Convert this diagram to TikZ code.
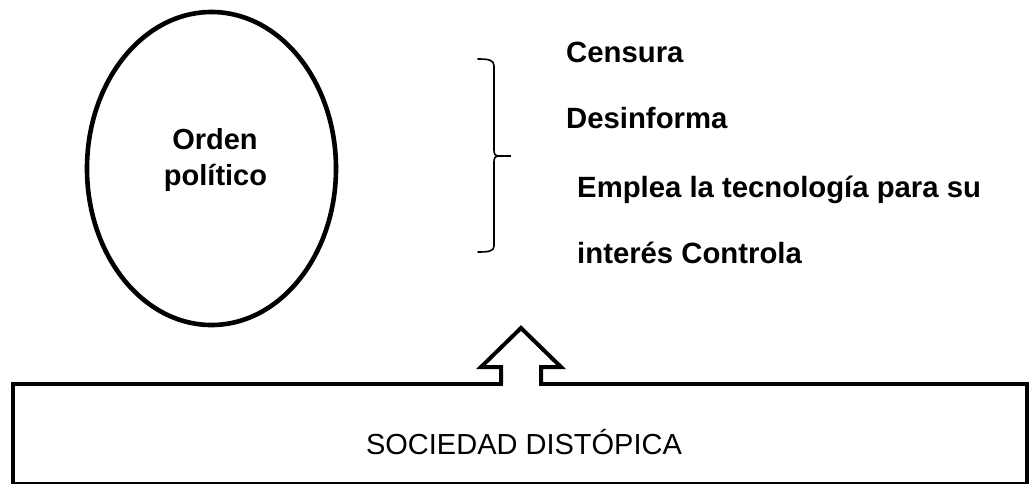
\documentclass[tikz,border=0pt]{standalone}
\usepackage{fontspec}
\setmainfont{Liberation Sans}
\usetikzlibrary{shapes.geometric}
\begin{document}
\begin{tikzpicture}[x=1pt,y=-1pt,
  thick line/.style={line width=4pt},
  boldtext/.style={inner sep=0pt, anchor=base west, font=\fontsize{29.3}{34}\selectfont\bfseries},
  centertext/.style={inner sep=0pt, anchor=base, font=\fontsize{29}{34}\selectfont\bfseries},
  bracestyle/.style={line width=1.6pt, line cap=round}]
\useasboundingbox (0,0) rectangle (1032,483);
\fill[white] (0,0) rectangle (1032,483);
% ellipse
\node[ellipse, draw, line width=4.6pt, minimum width=249pt, minimum height=313pt, inner sep=0pt] (orden) at (211.5,168.5) {};
\node[centertext] (t1) at (215,149) {Orden};
\node[centertext] (t2) at (215.5,185) {político};
% brace
\draw[bracestyle] (478,59) .. controls (489,59) and (494,60) .. (494,66) -- (494,150)
  .. controls (494,154) and (495,156) .. (499,156)
  .. controls (495,156) and (494,158) .. (494,162) -- (494,246)
  .. controls (494,251) and (489,252) .. (478,252);
\coordinate (bracetip) at (511,156);
\draw[line width=2.6pt] (497,156) -- (bracetip);
% list
\node[boldtext] (censura) at (566,62) {Censura};
\node[boldtext] (desinf) at (566,128) {Desinforma};
\node[boldtext] (emplea) at (577,197) {Emplea la tecnología para su};
\node[boldtext] (interes) at (577,263) {interés Controla};
% society box
\draw[thick line] (13,384) rectangle (1027,484);
\node[inner sep=0pt, anchor=base, font=\fontsize{29}{34}\selectfont] (soc) at (524,454) {SOCIEDAD DISTÓPICA};
% block arrow
\fill[white] (503,380) rectangle (539,387);
\coordinate (tip) at (521,328);
\draw[thick line, line join=miter] (501,384) -- (501,367) -- (481,367) -- (tip) -- (561,367) -- (541,367) -- (541,384);
\end{tikzpicture}
\end{document}
